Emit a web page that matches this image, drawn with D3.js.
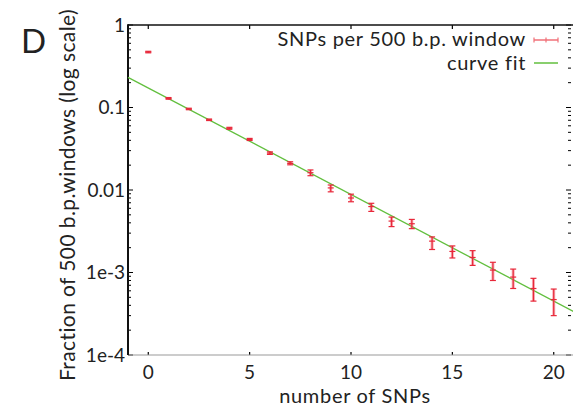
<!DOCTYPE html>
<html>
<head>
  <style>
    body { margin: 0; background: #fff; }
    svg { display: block; font-family: Lato, "Open Sans", sans-serif; }
  </style>
</head>
<body>
<script src="https://d3js.org/d3.v7.min.js"></script>
<div id="chart"></div>
<script>
  const snpCounts = [0, 1, 2, 3, 4, 5, 6, 7, 8, 9, 10, 11, 12, 13, 14, 15, 16, 17, 18, 19, 20];
  const fractions = [0.47, 0.129, 0.096, 0.071, 0.056, 0.041, 0.028, 0.021, 0.0162, 0.0106, 0.0080,
    0.0063, 0.0042, 0.0039, 0.0024, 0.0018, 0.00152, 0.00107, 0.00088, 0.00064, 0.00047];
  const errLow = [0.46, 0.126, 0.094, 0.0695, 0.0545, 0.0398, 0.027, 0.0202, 0.0149, 0.0095, 0.0072,
    0.0055, 0.0036, 0.0034, 0.0019, 0.0015, 0.00122, 0.00080, 0.00064, 0.00045, 0.00030];
  const errHigh = [0.48, 0.132, 0.098, 0.0725, 0.0575, 0.0422, 0.029, 0.022, 0.0175, 0.0115, 0.0089,
    0.0069, 0.0047, 0.0044, 0.0027, 0.0021, 0.00184, 0.00133, 0.0011, 0.00085, 0.00063];

  // curve fit: straight line on the log scale, given by its two ends
  const fitX = [-1, 21];
  const fitY = [0.232, 0.000335];

  const xTicks = [0, 5, 10, 15, 20];
  const yTicks = [1, 0.1, 0.01, 0.001, 0.0001];
  const yTickLabels = ["1", "0.1", "0.01", "1e-3", "1e-4"];

  const W = 573, H = 408;
  const plotL = 128, plotR = 574, plotT = 25, plotB = 355;

  const svg = d3.select("#chart").append("svg")
    .attr("width", W)
    .attr("height", H);

  const x = d3.scaleLinear().domain([-1, 21]).range([plotL, plotR]);
  const y = d3.scaleLog().domain([1e-4, 1]).range([plotB, plotT]);

  const red = "#e8283a";
  const green = "#62bf3e";

  // minor ticks on the log axis (left and right side)
  const minor = [];
  for (let e = -4; e < 0; e++) {
    for (let m = 2; m <= 9; m++) minor.push(m * Math.pow(10, e));
  }
  svg.append("g").selectAll("line")
    .data(minor)
    .join("line")
    .attr("x1", plotL).attr("x2", plotL + 3)
    .attr("y1", d => y(d)).attr("y2", d => y(d))
    .attr("stroke", "#000").attr("stroke-width", 1);
  svg.append("g").selectAll("line")
    .data(minor)
    .join("line")
    .attr("x1", plotR - 3).attr("x2", plotR - 6)
    .attr("y1", d => y(d)).attr("y2", d => y(d))
    .attr("stroke", "#000").attr("stroke-width", 1);

  // major y ticks
  svg.append("g").selectAll("line")
    .data(yTicks)
    .join("line")
    .attr("x1", plotL).attr("x2", plotL + 5)
    .attr("y1", d => y(d)).attr("y2", d => y(d))
    .attr("stroke", "#000").attr("stroke-width", 1);
  svg.append("g").selectAll("line")
    .data(yTicks)
    .join("line")
    .attr("x1", plotR - 3).attr("x2", plotR - 8)
    .attr("y1", d => y(d)).attr("y2", d => y(d))
    .attr("stroke", "#000").attr("stroke-width", 1);

  // x ticks, bottom and top (pointing inward)
  svg.append("g").selectAll("line")
    .data(xTicks)
    .join("line")
    .attr("x1", d => x(d)).attr("x2", d => x(d))
    .attr("y1", plotB).attr("y2", plotB - 3)
    .attr("stroke", "#000").attr("stroke-width", 1.2);
  svg.append("g").selectAll("line")
    .data(xTicks)
    .join("line")
    .attr("x1", d => x(d)).attr("x2", d => x(d))
    .attr("y1", plotT).attr("y2", plotT + 4)
    .attr("stroke", "#000").attr("stroke-width", 1.2);

  // frame
  svg.append("line")
    .attr("x1", plotL).attr("x2", plotR)
    .attr("y1", plotB).attr("y2", plotB)
    .attr("stroke", "#9a9a9a").attr("stroke-width", 1.2);
  svg.append("line")
    .attr("x1", plotL).attr("x2", plotR)
    .attr("y1", plotT).attr("y2", plotT)
    .attr("stroke", "#111").attr("stroke-width", 1.6);
  svg.append("line")
    .attr("x1", plotL).attr("x2", plotL)
    .attr("y1", plotT - 0.8).attr("y2", plotB)
    .attr("stroke", "#111").attr("stroke-width", 2);

  // tick labels
  svg.append("g").selectAll("text")
    .data(xTicks)
    .join("text")
    .attr("x", d => x(d))
    .attr("y", plotB + 24)
    .attr("text-anchor", "middle")
    .attr("font-size", 19)
    .attr("fill", "#222")
    .text(d => d);
  svg.append("g").selectAll("text")
    .data(yTicks)
    .join("text")
    .attr("x", plotL - 3)
    .attr("y", d => y(d))
    .attr("dy", "0.35em")
    .attr("text-anchor", "end")
    .attr("font-size", 19)
    .attr("fill", "#222")
    .text((d, i) => yTickLabels[i]);

  // axis titles
  svg.append("text")
    .attr("x", 355)
    .attr("y", 403)
    .attr("text-anchor", "middle")
    .attr("font-size", 20)
    .attr("letter-spacing", 0.7)
    .attr("fill", "#222")
    .text("number of SNPs");
  svg.append("text")
    .attr("transform", "translate(75,195) rotate(-90)")
    .attr("text-anchor", "middle")
    .attr("font-size", 21)
    .attr("letter-spacing", 0.4)
    .attr("fill", "#222")
    .text("Fraction of 500 b.p.windows (log scale)");

  // panel letter
  svg.append("text")
    .attr("x", 21)
    .attr("y", 53)
    .attr("font-size", 33)
    .attr("fill", "#222")
    .text("D");

  // curve fit
  const line = d3.line().x(d => x(d[0])).y(d => y(d[1]));
  svg.append("path")
    .datum(fitX.map((v, i) => [v, fitY[i]]))
    .attr("d", line)
    .attr("fill", "none")
    .attr("stroke", green)
    .attr("stroke-width", 1.3);

  // error bars
  const pts = snpCounts.map((c, i) => ({ c, v: fractions[i], lo: errLow[i], hi: errHigh[i] }));
  const bars = svg.append("g").selectAll("g")
    .data(pts)
    .join("g");
  bars.append("line")
    .attr("x1", d => x(d.c)).attr("x2", d => x(d.c))
    .attr("y1", d => y(d.lo)).attr("y2", d => y(d.hi))
    .attr("stroke", "rgba(240,110,120,0.55)").attr("stroke-width", 3);
  bars.append("line")
    .attr("x1", d => x(d.c)).attr("x2", d => x(d.c))
    .attr("y1", d => y(d.lo)).attr("y2", d => y(d.hi))
    .attr("stroke", red).attr("stroke-width", 1.2);
  bars.append("line")
    .attr("x1", d => x(d.c) - 3).attr("x2", d => x(d.c) + 3)
    .attr("y1", d => y(d.lo)).attr("y2", d => y(d.lo))
    .attr("stroke", red).attr("stroke-width", 1.2);
  bars.append("line")
    .attr("x1", d => x(d.c) - 3).attr("x2", d => x(d.c) + 3)
    .attr("y1", d => y(d.hi)).attr("y2", d => y(d.hi))
    .attr("stroke", red).attr("stroke-width", 1.2);
  bars.append("line")
    .attr("x1", d => x(d.c) - 3).attr("x2", d => x(d.c) + 3)
    .attr("y1", d => y(d.v)).attr("y2", d => y(d.v))
    .attr("stroke", red).attr("stroke-width", 1.2);

  // legend
  const lg = svg.append("g").attr("font-size", 20).attr("letter-spacing", 0.7).attr("fill", "#222");
  lg.append("text")
    .attr("x", 526).attr("y", 39).attr("dy", "0.35em")
    .attr("text-anchor", "end")
    .text("SNPs per 500 b.p. window");
  lg.append("text")
    .attr("x", 526).attr("y", 63).attr("dy", "0.35em")
    .attr("text-anchor", "end")
    .text("curve fit");
  lg.append("line")
    .attr("x1", 534).attr("x2", 558).attr("y1", 40).attr("y2", 40)
    .attr("stroke", "#f07078").attr("stroke-width", 1.5);
  [534, 546, 558].forEach(px => {
    lg.append("line")
      .attr("x1", px).attr("x2", px).attr("y1", 37.5).attr("y2", 42.5)
      .attr("stroke", "#f07078").attr("stroke-width", 1.2);
  });
  lg.append("line")
    .attr("x1", 534).attr("x2", 558).attr("y1", 63).attr("y2", 63)
    .attr("stroke", green).attr("stroke-width", 1.5);
</script>
</body>
</html>
